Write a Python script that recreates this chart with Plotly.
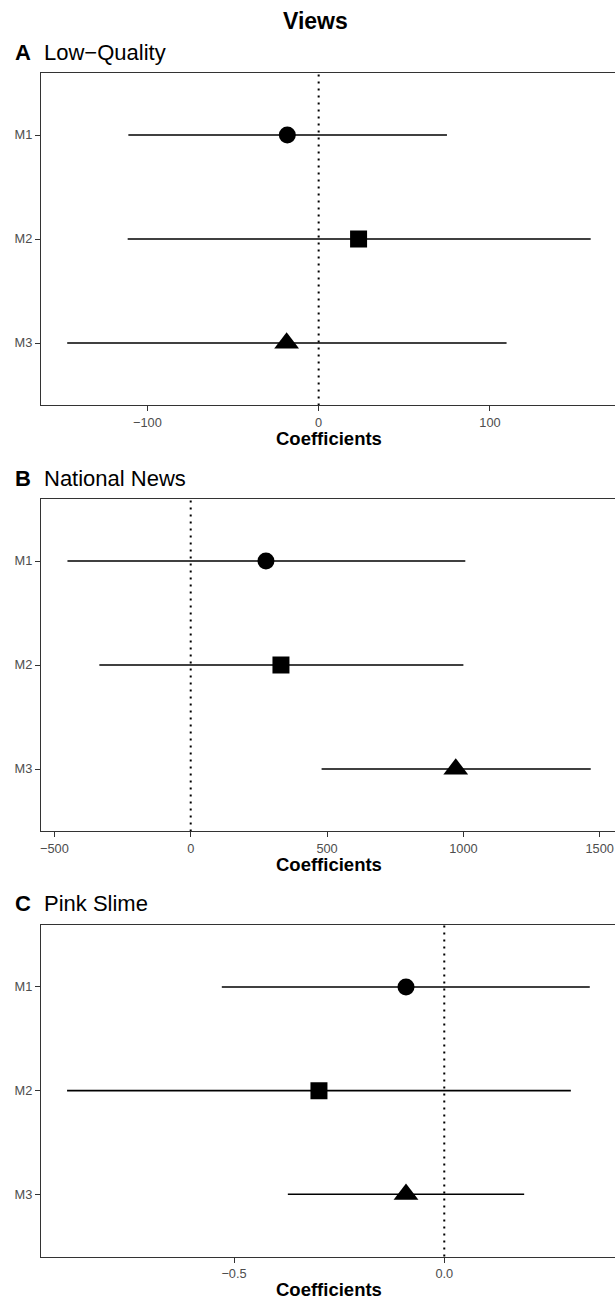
import plotly.graph_objects as go

W, H = 615, 1301
L = 41  # left margin in px

models = ["M1", "M2", "M3"]
ypos = [1, 2, 3]

# Panel A: Low-Quality
a_est = [-18.3, 23.3, -18.7]
a_lo = [-111.1, -111.5, -146.8]
a_hi = [74.9, 158.8, 109.7]
# Panel B: National News
b_est = [276, 331, 972]
b_lo = [-452, -335, 480]
b_hi = [1007, 1000, 1467]
# Panel C: Pink Slime
c_est = [-0.091, -0.298, -0.091]
c_lo = [-0.529, -0.897, -0.372]
c_hi = [0.346, 0.301, 0.190]

symbols = ["circle", "square", "triangle-up"]
sizes = [17, 17, 21.5]

panels = [
    dict(letter="A", title="Low\u2212Quality", est=a_est, lo=a_lo, hi=a_hi,
         top=72.6, bottom=405.4, xr=[-162.1, 173.0], ticks=[-100, 0, 100], fmt=None, tcy=52.2),
    dict(letter="B", title="National News", est=b_est, lo=b_lo, hi=b_hi,
         top=498.6, bottom=831.4, xr=[-549, 1556], ticks=[-500, 0, 500, 1000, 1500], fmt=None, tcy=478.0),
    dict(letter="C", title="Pink Slime", est=c_est, lo=c_lo, hi=c_hi,
         top=924.8, bottom=1256.5, xr=[-0.959, 0.406], ticks=[-0.5, 0.0], fmt=".1f", tcy=903.6),
]

FONT = "Liberation Sans, Arial, Helvetica, sans-serif"

def py(px):
    return 1 - px / H

def pxx(px):
    return (px - L) / (W - L)

fig = go.Figure()
annotations = []
shapes = []
for i, p in enumerate(panels):
    n = "" if i == 0 else str(i + 1)
    xa, ya = "x" + n, "y" + n
    for j in range(3):
        fig.add_trace(go.Scatter(
            x=[p["est"][j]], y=[ypos[j]], xaxis=xa, yaxis=ya, mode="markers",
            marker=dict(symbol=symbols[j], size=sizes[j], color="black",
                        line=dict(width=0, color="black")),
            error_x=dict(type="data", symmetric=False,
                         array=[p["hi"][j] - p["est"][j]],
                         arrayminus=[p["est"][j] - p["lo"][j]],
                         color="black", thickness=1.6, width=0),
            showlegend=False, hoverinfo="skip"))
    # zero reference line
    shapes.append(dict(type="line", xref=xa, yref=ya + " domain", x0=0, x1=0, y0=0, y1=1,
                       line=dict(color="black", width=2, dash="2px,5px"), layer="below"))
    axkey = "xaxis" + n
    aykey = "yaxis" + n
    fig.update_layout(**{
        axkey: dict(domain=[0, 1], anchor=ya, range=p["xr"], tickvals=p["ticks"],
                    tickformat=p["fmt"], showgrid=False, zeroline=False,
                    showline=True, linecolor="#333333", linewidth=1.1, mirror=True,
                    ticks="outside", ticklen=5, tickwidth=1.1, tickcolor="#333333",
                    tickfont=dict(family=FONT, size=12.8, color="#4D4D4D")),
        aykey: dict(domain=[py(p["bottom"]), py(p["top"])], anchor=xa, range=[3.6, 0.4],
                    tickvals=ypos, ticktext=models, showgrid=False, zeroline=False,
                    showline=True, linecolor="#333333", linewidth=1.1,
                    ticks="outside", ticklen=5, tickwidth=1.1, tickcolor="#333333",
                    tickfont=dict(family=FONT, size=12.8, color="#4D4D4D")),
    })
    annotations.append(dict(xref="paper", yref="paper", x=pxx(13.3), y=py(p["tcy"]),
                            xanchor="left", yanchor="middle", showarrow=False,
                            text="<b>" + p["letter"] + "</b>",
                            font=dict(family=FONT, size=22, color="black")))
    annotations.append(dict(xref="paper", yref="paper", x=pxx(41.7), y=py(p["tcy"]),
                            xanchor="left", yanchor="middle", showarrow=False,
                            text=p["title"], font=dict(family=FONT, size=22, color="black")))
    annotations.append(dict(xref="paper", yref="paper", x=pxx(328.5), y=py(p["bottom"] + 33),
                            xanchor="center", yanchor="middle", showarrow=False,
                            text="<b>Coefficients</b>", font=dict(family=FONT, size=18.5, color="black")))

annotations.append(dict(xref="paper", yref="paper", x=pxx(315.5), y=py(21),
                        xanchor="center", yanchor="middle", showarrow=False,
                        text="<b>Views</b>", font=dict(family=FONT, size=23, color="black")))

fig.update_layout(width=W, height=H, margin=dict(l=L, r=0, t=0, b=0),
                  paper_bgcolor="white", plot_bgcolor="white",
                  annotations=annotations, shapes=shapes, showlegend=False)

fig.write_html("out.html")
